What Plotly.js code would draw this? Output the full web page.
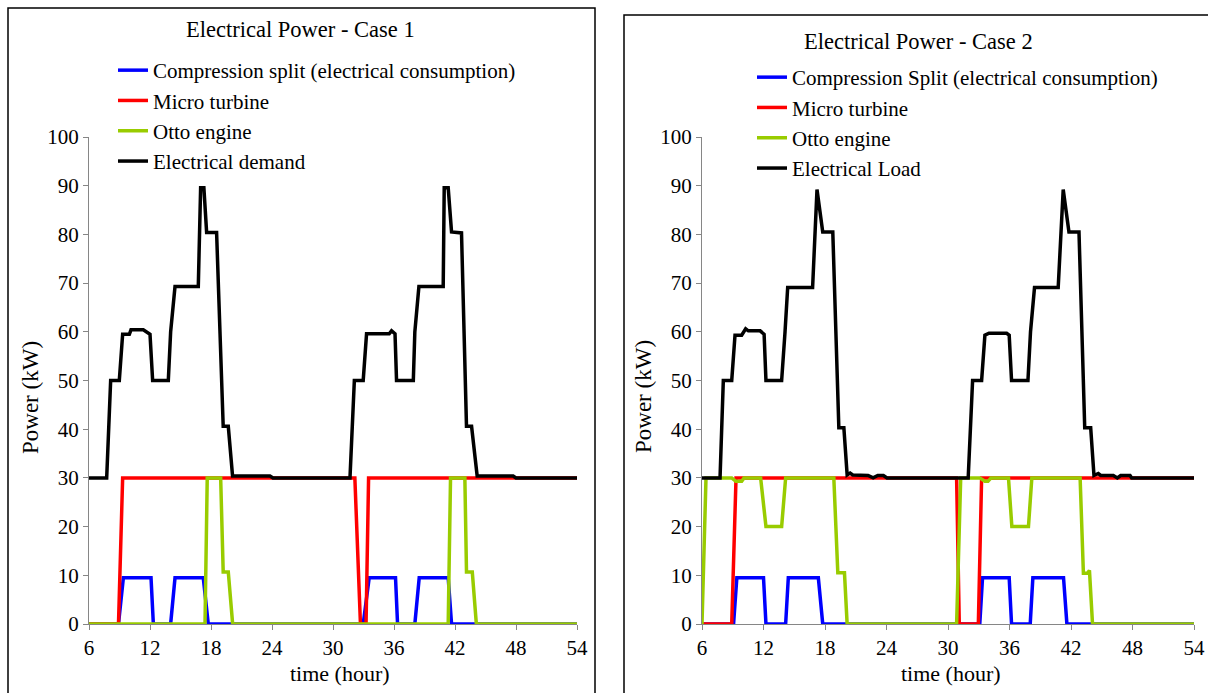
<!DOCTYPE html>
<html>
<head>
<meta charset="utf-8">
<script src="https://cdn.plot.ly/plotly-3.0.1.min.js"></script>
<style>html,body{margin:0;padding:0;background:#fff;}#chart{width:1208px;height:693px;}</style>
</head>
<body>
<div id="chart"></div>
<script>
// ---------- Case 1 data (time in hours, power in kW) ----------
const c1DemandT = [6, 7.74, 8.13, 8.98, 9.31, 9.97, 10.13, 11.34, 12.0, 12.26, 13.8, 14.03, 14.46, 16.75, 16.98, 17.3, 17.57, 18.55, 19.2, 19.7, 20.12, 23.8, 24.1, 31.67, 32.1, 32.97, 33.3, 35.53, 35.76, 36.1, 36.25, 37.9, 38.05, 38.45, 40.84, 40.94, 41.33, 41.66, 42.64, 43.13, 43.63, 44.18, 47.72, 48.0, 54];
const c1DemandV = [30, 30, 50, 50, 59.5, 59.5, 60.4, 60.4, 59.5, 50, 50, 60, 69.3, 69.3, 89.6, 89.6, 80.4, 80.4, 40.6, 40.6, 30.4, 30.4, 30, 30, 50, 50, 59.6, 59.6, 60.2, 59.6, 50, 50, 60, 69.3, 69.3, 89.6, 89.6, 80.5, 80.3, 40.6, 40.6, 30.4, 30.4, 30, 30];

const c1TurbineT = [6, 8.9, 9.31, 32.15, 32.7, 33.25, 33.5, 54];
const c1TurbineV = [0, 0, 30, 30, 0, 0, 30, 30];

const c1SplitT = [6, 8.9, 9.38, 12.1, 12.33, 14.03, 14.46, 17.24, 17.73, 32.97, 33.56, 36.15, 36.35, 38.05, 38.48, 41.33, 41.66, 54];
const c1SplitV = [0, 0, 9.5, 9.5, 0, 0, 9.5, 9.5, 0, 0, 9.5, 9.5, 0, 0, 9.5, 9.5, 0, 0];

const c1OttoT = [6, 17.41, 17.63, 18.95, 19.2, 19.7, 20.13, 41.33, 41.56, 42.97, 43.13, 43.7, 44.1, 54];
const c1OttoV = [0, 0, 30, 30, 10.7, 10.7, 0, 0, 30, 30, 10.7, 10.7, 0, 0];

// ---------- Case 2 data ----------
const c2LoadT = [6, 7.76, 8.08, 8.9, 9.22, 9.87, 10.26, 10.52, 11.67, 12.06, 12.24, 13.77, 14.1, 14.36, 16.79, 17.22, 17.78, 18.76, 19.35, 19.84, 20.16, 20.45, 20.7, 22.2, 22.7, 23.15, 23.7, 24.05, 31.97, 32.4, 33.28, 33.6, 34.0, 35.72, 35.97, 36.2, 37.8, 38.05, 38.44, 40.75, 41.24, 41.8, 42.78, 43.34, 43.92, 44.24, 44.66, 44.9, 46.13, 46.52, 46.85, 47.76, 47.92, 54];
const c2LoadV = [30, 30, 50, 50, 59.3, 59.3, 60.6, 60.2, 60.2, 59.5, 50, 50, 60, 69.1, 69.1, 89.2, 80.5, 80.5, 40.3, 40.3, 30.6, 31.0, 30.6, 30.5, 30.0, 30.5, 30.5, 30.0, 30, 50, 50, 59.3, 59.7, 59.7, 59.3, 50, 50, 60, 69.1, 69.1, 89.2, 80.5, 80.5, 40.3, 40.3, 30.5, 30.9, 30.5, 30.5, 30.0, 30.5, 30.5, 30.0, 30];

const c2TurbineT = [6, 8.9, 9.32, 30.84, 31.1, 32.96, 33.28, 54];
const c2TurbineV = [0, 0, 30, 30, 0, 0, 30, 30];

const c2SplitT = [6, 9.08, 9.4, 12.0, 12.24, 14.16, 14.42, 17.35, 17.78, 33.1, 33.37, 35.97, 36.2, 38.02, 38.28, 41.27, 41.6, 54];
const c2SplitV = [0, 0, 9.5, 9.5, 0, 0, 9.5, 9.5, 0, 0, 9.5, 9.5, 0, 0, 9.5, 9.5, 0, 0];

const c2OttoT = [6, 6.39, 8.9, 9.3, 9.87, 10.1, 11.72, 12.24, 13.77, 14.16, 18.86, 19.25, 19.9, 20.16, 30.84, 31.24, 33.1, 33.6, 33.9, 34.2, 35.9, 36.23, 37.85, 38.18, 42.89, 43.21, 43.6, 43.8, 44.1, 54];
const c2OttoV = [0, 30, 30, 29.3, 29.3, 30, 30, 20, 20, 30, 30, 10.5, 10.5, 0, 0, 30, 30, 29.3, 29.3, 30, 30, 20, 20, 30, 30, 10.4, 10.4, 11, 0, 0];

const names1 = ['Compression split (electrical consumption)', 'Micro turbine', 'Otto engine', 'Electrical demand'];
const names2 = ['Compression Split (electrical consumption)', 'Micro turbine', 'Otto engine', 'Electrical Load'];
const xTicks = [6, 12, 18, 24, 30, 36, 42, 48, 54];
const yTicks = [0, 10, 20, 30, 40, 50, 60, 70, 80, 90, 100];

const colors = ['#0000FF', '#FF0000', '#99CC00', '#000000'];
const W = 1208, H = 693;
const FONT = 'Liberation Serif';

function mk(x, y, name, color, xa, ya, leg) {
  return {x: x, y: y, name: name, type: 'scatter', mode: 'lines',
    line: {color: color, width: 3.5}, xaxis: xa, yaxis: ya, legend: leg, hoverinfo: 'x+y+name'};
}

const traces = [
  mk(c1SplitT, c1SplitV, names1[0], colors[0], 'x', 'y', 'legend'),
  mk(c1TurbineT, c1TurbineV, names1[1], colors[1], 'x', 'y', 'legend'),
  mk(c1OttoT, c1OttoV, names1[2], colors[2], 'x', 'y', 'legend'),
  mk(c1DemandT, c1DemandV, names1[3], colors[3], 'x', 'y', 'legend'),
  mk(c2SplitT, c2SplitV, names2[0], colors[0], 'x2', 'y2', 'legend2'),
  mk(c2TurbineT, c2TurbineV, names2[1], colors[1], 'x2', 'y2', 'legend2'),
  mk(c2OttoT, c2OttoV, names2[2], colors[2], 'x2', 'y2', 'legend2'),
  mk(c2LoadT, c2LoadV, names2[3], colors[3], 'x2', 'y2', 'legend2')
];

const px = v => v / W;
const py = v => 1 - v / H;

function xa(dom, anchor) {
  return {domain: dom, anchor: anchor, range: [6, 54], tickvals: xTicks, ticktext: xTicks.map(String),
    showgrid: false, zeroline: false, showline: true, linecolor: '#868686', linewidth: 1,
    ticks: 'outside', ticklen: 5, tickcolor: '#868686', tickfont: {family: FONT, size: 21, color: '#000'}, fixedrange: true};
}
function ya(anchor) {
  return {domain: [py(624), py(137)], anchor: anchor, range: [0, 100], tickvals: yTicks, ticktext: yTicks.map(String),
    showgrid: false, zeroline: false, showline: true, linecolor: '#868686', linewidth: 1,
    ticks: 'outside', ticklen: 5, tickcolor: '#868686', tickfont: {family: FONT, size: 21, color: '#000'}, fixedrange: true};
}

const legBase = {font: {family: FONT, size: 21, color: '#000'}, bgcolor: 'rgba(0,0,0,0)', borderwidth: 0,
  xanchor: 'left', yanchor: 'top', tracegroupgap: 0};

const layout = {
  width: W, height: H,
  margin: {l: 0, r: 0, t: 0, b: 0},
  paper_bgcolor: '#fff', plot_bgcolor: 'rgba(0,0,0,0)',
  font: {family: FONT, color: '#000'},
  showlegend: true,
  xaxis: xa([px(89), px(577)], 'y'),
  yaxis: ya('x'),
  xaxis2: xa([px(702), px(1194)], 'y2'),
  yaxis2: ya('x2'),
  legend: Object.assign({}, legBase, {x: px(113), y: py(50)}),
  legend2: Object.assign({}, legBase, {x: px(752), y: py(57)}),
  shapes: [
    {type: 'rect', xref: 'paper', yref: 'paper', x0: px(8), x1: px(595), y0: -0.1, y1: py(8), line: {color: '#000', width: 1.5}, layer: 'below'},
    {type: 'rect', xref: 'paper', yref: 'paper', x0: px(624), x1: 1.1, y0: -0.1, y1: py(15), line: {color: '#000', width: 1.5}, layer: 'below'}
  ],
  annotations: [
    {text: 'Electrical Power - Case 1', xref: 'paper', yref: 'paper', x: px(300), y: py(30), showarrow: false, xanchor: 'center', yanchor: 'middle', font: {family: FONT, size: 22.5, color: '#000'}},
    {text: 'Electrical Power - Case 2', xref: 'paper', yref: 'paper', x: px(918), y: py(42), showarrow: false, xanchor: 'center', yanchor: 'middle', font: {family: FONT, size: 22.5, color: '#000'}},
    {text: 'time (hour)', xref: 'paper', yref: 'paper', x: px(340), y: py(673), showarrow: false, xanchor: 'center', yanchor: 'middle', font: {family: FONT, size: 22, color: '#000'}},
    {text: 'time (hour)', xref: 'paper', yref: 'paper', x: px(951), y: py(673), showarrow: false, xanchor: 'center', yanchor: 'middle', font: {family: FONT, size: 22, color: '#000'}},
    {text: 'Power (kW)', xref: 'paper', yref: 'paper', x: px(30), y: py(397), showarrow: false, textangle: -90, xanchor: 'center', yanchor: 'middle', font: {family: FONT, size: 23, color: '#000'}},
    {text: 'Power (kW)', xref: 'paper', yref: 'paper', x: px(643), y: py(397), showarrow: false, textangle: -90, xanchor: 'center', yanchor: 'middle', font: {family: FONT, size: 23, color: '#000'}}
  ]
};

Plotly.newPlot('chart', traces, layout, {displayModeBar: false, staticPlot: false});
</script>
</body>
</html>
